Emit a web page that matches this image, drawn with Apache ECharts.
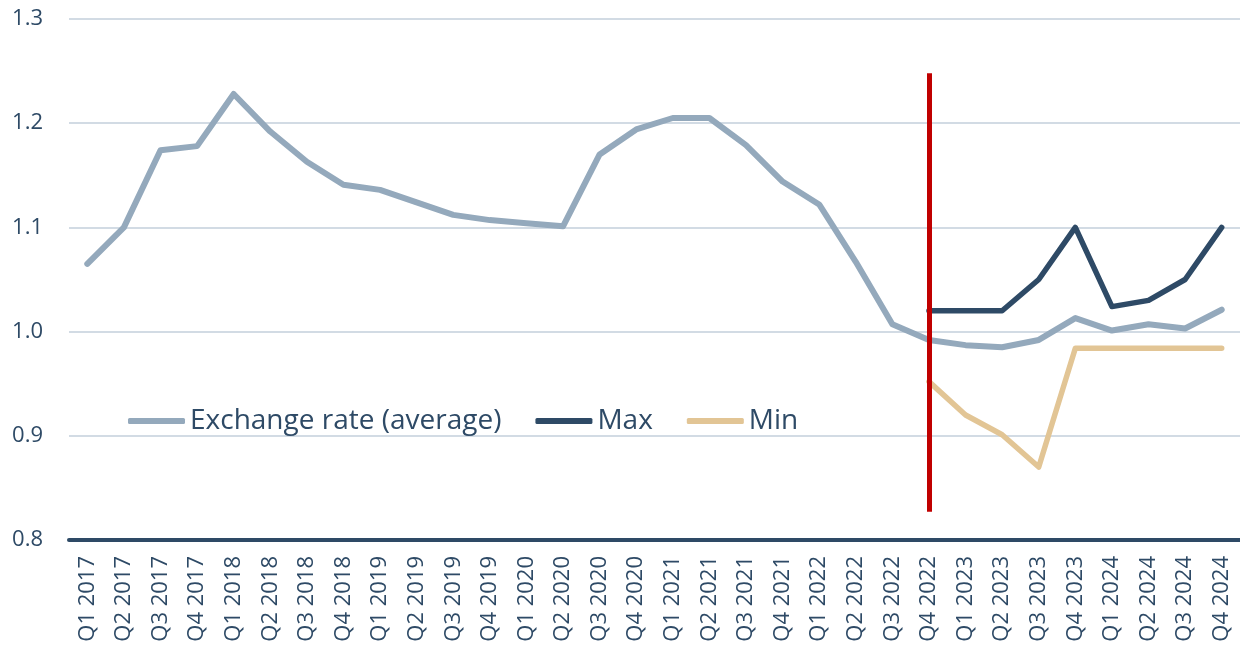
<!DOCTYPE html>
<html>
<head>
<meta charset="utf-8">
<script src="https://cdn.jsdelivr.net/npm/echarts@6/dist/echarts.min.js"></script>
<style>
  html, body { margin: 0; padding: 0; background: #fff; }
  #chart { width: 1240px; height: 649px; }
</style>
</head>
<body>
<div id="chart"></div>
<script>
'use strict';
// quarters shown on the x axis
const quarters = [
  'Q1 2017', 'Q2 2017', 'Q3 2017', 'Q4 2017',
  'Q1 2018', 'Q2 2018', 'Q3 2018', 'Q4 2018',
  'Q1 2019', 'Q2 2019', 'Q3 2019', 'Q4 2019',
  'Q1 2020', 'Q2 2020', 'Q3 2020', 'Q4 2020',
  'Q1 2021', 'Q2 2021', 'Q3 2021', 'Q4 2021',
  'Q1 2022', 'Q2 2022', 'Q3 2022', 'Q4 2022',
  'Q1 2023', 'Q2 2023', 'Q3 2023', 'Q4 2023',
  'Q1 2024', 'Q2 2024', 'Q3 2024', 'Q4 2024'
];
const averageRate = [
  1.065, 1.100, 1.174, 1.178,
  1.228, 1.192, 1.163, 1.141,
  1.136, 1.124, 1.112, 1.107,
  1.104, 1.101, 1.170, 1.194,
  1.205, 1.205, 1.179, 1.144,
  1.122, 1.067, 1.007, 0.992,
  0.987, 0.985, 0.992, 1.013,
  1.001, 1.007, 1.003, 1.021
];
const maxRate = [
  null, null, null, null, null, null, null, null,
  null, null, null, null, null, null, null, null,
  null, null, null, null, null, null, null, 1.020,
  1.020, 1.020, 1.050, 1.100,
  1.024, 1.030, 1.050, 1.100
];
const minRate = [
  null, null, null, null, null, null, null, null,
  null, null, null, null, null, null, null, null,
  null, null, null, null, null, null, null, 0.952,
  0.920, 0.901, 0.870, 0.984,
  0.984, 0.984, 0.984, 0.984
];
// red forecast divider
const dividerQuarter = 'Q4 2022';
const dividerRange = [0.827, 1.248];

const textColor = '#2E4A66';
const font = '"Open Sans", "Noto Sans", sans-serif';

const chart = echarts.init(document.getElementById('chart'));

function line(name, data, color, width) {
  return {
    name: name,
    type: 'line',
    data: data,
    showSymbol: false,
    symbol: 'none',
    connectNulls: false,
    lineStyle: {color: color, width: width, cap: 'round', join: 'round'},
    itemStyle: {color: color},
    emphasis: {disabled: true}
  };
}

const minSeries = line('Min', minRate, '#E2C595', 5.5);
minSeries.markLine = {
  silent: true,
  symbol: ['none', 'none'],
  label: {show: false},
  lineStyle: {color: '#C00000', width: 5, type: 'solid', cap: 'butt'},
  data: [[
    {coord: [dividerQuarter, dividerRange[0]]},
    {coord: [dividerQuarter, dividerRange[1]]}
  ]],
  z: 10
};

chart.setOption({
  animation: false,
  textStyle: {fontFamily: font},
  grid: {left: 69, right: -2, top: 19, bottom: 109, containLabel: false},
  legend: {
    left: 123,
    top: 402,
    icon: 'roundRect',
    itemWidth: 57,
    itemHeight: 6,
    itemGap: 34,
    textStyle: {color: textColor, fontSize: 28, fontFamily: font},
    data: ['Exchange rate (average)', 'Max', 'Min']
  },
  xAxis: {
    type: 'category',
    data: quarters,
    boundaryGap: true,
    axisLine: {lineStyle: {color: textColor, width: 4}},
    axisTick: {show: false},
    axisLabel: {
      rotate: 90,
      interval: 0,
      margin: 16,
      color: textColor,
      fontSize: 22,
      fontFamily: font
    }
  },
  yAxis: {
    type: 'value',
    min: 0.8,
    max: 1.3,
    interval: 0.1,
    axisLine: {show: false},
    axisTick: {show: false},
    axisLabel: {
      color: textColor,
      fontSize: 22,
      fontFamily: font,
      margin: 26,
      formatter: (v) => v.toFixed(1)
    },
    splitLine: {lineStyle: {color: '#C3CFDB', width: 1.5}}
  },
  series: [
    line('Exchange rate (average)', averageRate, '#94A9BC', 6),
    line('Max', maxRate, '#2E4A66', 5.5),
    minSeries
  ]
});
</script>
</body>
</html>
